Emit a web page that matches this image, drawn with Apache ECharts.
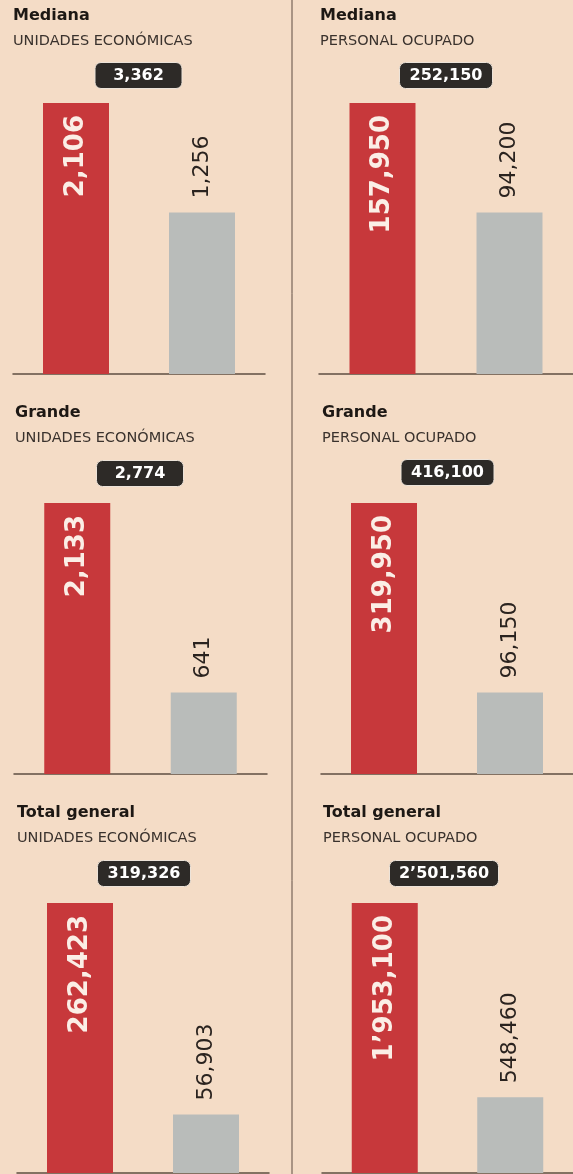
<!DOCTYPE html>
<html>
<head>
<meta charset="utf-8">
<script src="https://cdn.jsdelivr.net/npm/echarts@6/dist/echarts.min.js"></script>
<style>
  html, body { margin: 0; padding: 0; background: #f4dcc6; }
  #chart { width: 573px; height: 1174px; }
</style>
</head>
<body>
<div id="chart"></div>
<script>
// filas (tamaño) y columnas (medida)
const sizes = ['Mediana', 'Grande', 'Total general']
const measures = ['UNIDADES ECONÓMICAS', 'PERSONAL OCUPADO']
const categories = ['rojo', 'gris']

// valores por fila
const unidadesRojo = [2106, 2133, 262423]
const unidadesGris = [1256, 641, 56903]
const personalRojo = [157950, 319950, 1953100]
const personalGris = [94200, 96150, 548460]

// posiciones de cada panel [fila][columna]
const gridLeft = [[13, 319], [14, 321], [17, 322]]
const gridWidth = [[252, 254], [253, 254], [252, 256]]
const gridTop = [103, 503, 903]
const baseY = [374, 774, 1173]
const titleTop = [8, 405, 805]
const titleLeft = [[13, 320], [15, 322], [17, 323]]
const boxTop = [[62, 62], [460, 459], [860, 860]]
const boxCenter = [[138.5, 446], [140, 447.5], [144, 444]]

const RED = '#c7383b'
const GRAY = '#b9bcba'
const FONT = 'DejaVu Sans'

// 1'953,100
const fmt = n => {
  const s = String(n)
  const parts = []
  for (let i = s.length; i > 0; i -= 3) parts.unshift(s.slice(Math.max(0, i - 3), i))
  if (parts.length > 2) return parts.slice(0, parts.length - 2).join(',') + '’' + parts.slice(-2).join(',')
  return parts.join(',')
}

const chart = echarts.init(document.getElementById('chart'))

const grid = [], xAxis = [], yAxis = [], series = [], title = []

sizes.forEach((size, r) => {
  measures.forEach((measure, c) => {
    const k = grid.length
    const rojo = c === 0 ? unidadesRojo[r] : personalRojo[r]
    const gris = c === 0 ? unidadesGris[r] : personalGris[r]
    const total = fmt(rojo + gris)

    grid.push({
      left: gridLeft[r][c],
      width: gridWidth[r][c],
      top: gridTop[r],
      bottom: 1174 - baseY[r]
    })
    xAxis.push({
      gridIndex: k,
      type: 'category',
      data: categories,
      axisLine: { show: true, lineStyle: { color: '#5e4d42', width: 1.5 } },
      axisTick: { show: false },
      axisLabel: { show: false }
    })
    yAxis.push({ gridIndex: k, type: 'value', min: 0, max: 'dataMax', show: false })
    series.push({
      type: 'bar',
      xAxisIndex: k,
      yAxisIndex: k,
      barWidth: 66,
      animation: false,
      data: [
        {
          value: rojo,
          itemStyle: { color: RED },
          label: {
            show: true, position: 'insideTop', rotate: 90, align: 'right', verticalAlign: 'middle',
            distance: 12, color: '#fbeee6', fontSize: 26, fontWeight: 'bold', fontFamily: FONT,
            formatter: p => fmt(p.value)
          }
        },
        {
          value: gris,
          itemStyle: { color: GRAY },
          label: {
            show: true, position: 'top', rotate: 90, align: 'left', verticalAlign: 'middle',
            distance: 14, color: '#2a231f', fontSize: 22, fontFamily: FONT,
            formatter: p => fmt(p.value)
          }
        }
      ]
    })

    title.push({
      text: size,
      subtext: measure,
      left: titleLeft[r][c],
      top: titleTop[r],
      padding: 0,
      itemGap: 10,
      textStyle: { fontFamily: FONT, fontSize: 16, fontWeight: 'bold', color: '#1d1814' },
      subtextStyle: { fontFamily: FONT, fontSize: 14.5, color: '#3a322d' }
    })
    title.push({
      text: '{v|' + total + '}',
      left: boxCenter[r][c] - 10,
      top: boxTop[r][c],
      textAlign: 'center',
      padding: [5, 10],
      backgroundColor: '#2d2a27',
      borderColor: '#ece3d9',
      borderWidth: 1,
      borderRadius: 6,
      textStyle: {
        rich: {
          v: {
            width: total.length > 7 ? null : 68, align: 'center', color: '#ffffff',
            fontSize: 16, fontWeight: 'bold', fontFamily: FONT, lineHeight: 17
          }
        }
      }
    })
  })
})

chart.setOption({
  backgroundColor: '#f4dcc6',
  animation: false,
  title,
  grid,
  xAxis,
  yAxis,
  series,
  graphic: [{
    type: 'line',
    shape: { x1: 292, y1: 0, x2: 292, y2: 1174 },
    style: { stroke: '#5e4d42', lineWidth: 1 }
  }]
})
</script>
</body>
</html>
